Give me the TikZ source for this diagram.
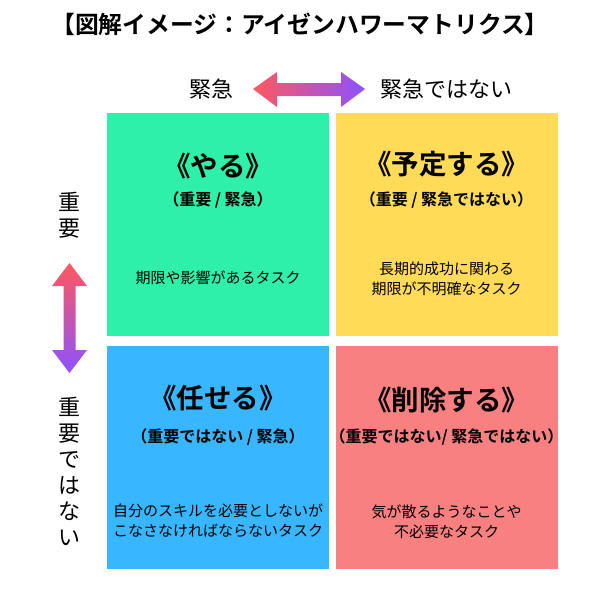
\documentclass[tikz,border=0pt]{standalone}
\usepackage{fontspec}
\setmainfont{Noto Sans CJK JP}[BoldFont={Noto Sans CJK JP Bold}]
\definecolor{qgreen}{RGB}{46,240,168}
\definecolor{qyellow}{RGB}{255,219,88}
\definecolor{qblue}{RGB}{56,182,255}
\definecolor{qred}{RGB}{248,128,128}
\definecolor{arred}{RGB}{255,88,95}
\definecolor{arpurple}{RGB}{140,82,255}
\tikzset{
    quad/.style={minimum width=222pt,minimum height=223pt,inner sep=0pt,draw=none},
    head/.style={font=\fontsize{27.5}{32}\selectfont\bfseries},
    sub/.style={font=\fontsize{16}{20}\selectfont\bfseries},
    body/.style={font=\fontsize{15}{20}\selectfont,align=center},
    axis/.style={font=\fontsize{22}{24}\selectfont,align=center}
}
\begin{document}
\begin{tikzpicture}[x=1pt,y=-1pt]
        \useasboundingbox (0,0) rectangle (600,600);
        \node[font=\fontsize{23.8}{28}\selectfont\bfseries] (title) at (300,24) {【図解イメージ：アイゼンハワーマトリクス】};
        % quadrants
        \node[quad,fill=qgreen]  (doit)   at (218,224) {};
        \node[quad,fill=qyellow] (plan)   at (446.5,224) {};
        \node[quad,fill=qblue]   (assign) at (218,457.5) {};
        \node[quad,fill=qred]    (drop)   at (446.5,457.5) {};
        % axes
        \node[axis] (urg)   at (211,89) {緊急};
        \node[axis] (nurg)  at (446,89) {緊急ではない};
        \node[axis,inner sep=0pt] (imp)  at (69,215) {重\\[2pt]要};
        \node[axis,inner sep=0pt] (nimp) at (69,471) {重\\[2pt]要\\[2pt]で\\[2pt]は\\[2pt]な\\[2pt]い};
        \shade[left color=arred,right color=arpurple]
            (253,89) -- (277,72) -- (277,83) -- (341,83) -- (341,72) -- (365,89)
            -- (341,107) -- (341,96) -- (277,96) -- (277,107) -- cycle;
        \shade[top color=arred,bottom color=arpurple]
            (69.5,263) -- (87,286) -- (75.5,286) -- (75.5,350) -- (87,350) -- (69.5,373)
            -- (52,350) -- (63.5,350) -- (63.5,286) -- (52,286) -- cycle;
        % texts
        \node[head] (doith) at (218,166) {《やる》};
        \node[sub]  (doits) at (218,200) {（重要 / 緊急）};
        \node[body] (doitb) at (218,278) {期限や影響があるタスク};
        \node[head] (planh) at (446.5,164) {《予定する》};
        \node[sub]  (plans) at (446.5,200) {（重要 / 緊急ではない）};
        \node[body] (planb) at (446.5,279) {長期的成功に関わる\\期限が不明確なタスク};
        \node[head] (assignh) at (218,398) {《任せる》};
        \node[sub]  (assigns) at (218,437) {（重要ではない / 緊急）};
        \node[body] (assignb) at (218,521) {自分のスキルを必要としないが\\こなさなければならないタスク};
        \node[head] (droph) at (446.5,400) {《削除する》};
        \node[sub]  (drops) at (446.5,437) {（重要ではない/ 緊急ではない）};
        \node[body] (dropb) at (446.5,522) {気が散るようなことや\\不必要なタスク};
\end{tikzpicture}
\end{document}
